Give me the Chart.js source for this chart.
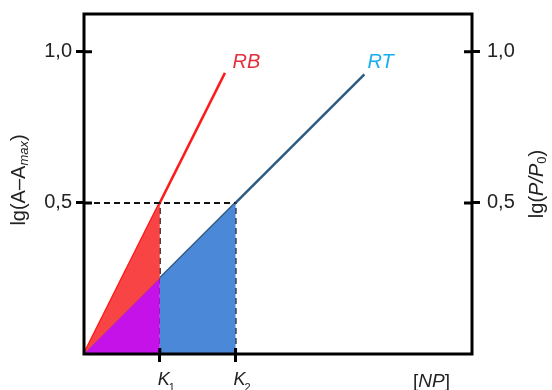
<!DOCTYPE html>
<html>
<head>
<meta charset="utf-8">
<script src="https://cdn.jsdelivr.net/npm/chart.js@4"></script>
<style>
  html, body { margin: 0; padding: 0; background: #fff; }
  #wrap { width: 552px; height: 390px; }
</style>
</head>
<body>
<div id="wrap"><canvas id="chart" width="552" height="390"></canvas></div>
<script>
// axis ticks
const yTicks = [0.5, 1.0];
const kTicks = [1, 2];
const kNames = ["1", "2"];

// lines
const rbX = [0, 1.86];
const rbY = [0, 0.93];
const rtX = [0, 3.7];
const rtY = [0, 0.925];

// shaded regions
const purpleX = [0, 1, 1];
const purpleY = [0, 0.25, 0];
const redX = [0, 1, 1];
const redY = [0, 0.5, 0.25];
const blueX = [1, 1, 2, 2];
const blueY = [0, 0.25, 0.5, 0];

// dashed guides
const hGuideX = [0, 2];
const hGuideY = [0.5, 0.5];
const k1GuideX = [1, 1];
const k2GuideX = [2, 2];
const vGuideY = [0, 0.5];

// series labels
const lineLabels = ["RB", "RT"];
const labelX = [1.96, 3.74];
const labelY = [0.965, 0.965];
const labelColors = ["#e3303c", "#16aef0"];

const FONT = '"Liberation Sans", Arial, sans-serif';
const INK = "#222";

const pts = (xs, ys) => xs.map((x, i) => ({ x, y: ys[i] }));

function region(xs, ys, color) {
  return {
    data: pts(xs, ys),
    showLine: true,
    fill: "shape",
    backgroundColor: color,
    borderWidth: 0,
    borderColor: color,
    pointRadius: 0,
  };
}

function guide(xs, ys) {
  return {
    data: pts(xs, ys),
    showLine: true,
    fill: false,
    borderColor: "#111",
    borderWidth: 2,
    borderDash: [6, 4],
    pointRadius: 0,
  };
}

function line(xs, ys, color) {
  return {
    data: pts(xs, ys),
    showLine: true,
    fill: false,
    borderColor: color,
    borderWidth: 2.5,
    pointRadius: 0,
  };
}

const decor = {
  id: "decor",
  afterDatasetsDraw(chart) {
    const { ctx, chartArea: a, scales } = chart;
    const x = scales.x, y = scales.y;
    ctx.save();
    // frame
    ctx.strokeStyle = "#000";
    ctx.lineWidth = 3;
    ctx.strokeRect(a.left, a.top, a.right - a.left, a.bottom - a.top);
    // inner part of tick marks
    ctx.beginPath();
    yTicks.forEach((v) => {
      const py = y.getPixelForValue(v);
      ctx.moveTo(a.left, py); ctx.lineTo(a.left + 8, py);
      ctx.moveTo(a.right, py); ctx.lineTo(a.right - 8, py);
    });
    kTicks.forEach((v) => {
      const px = x.getPixelForValue(v);
      ctx.moveTo(px, a.bottom); ctx.lineTo(px, a.bottom - 6);
    });
    ctx.stroke();

    // series labels
    ctx.font = "italic 20px " + FONT;
    ctx.textBaseline = "middle";
    ctx.textAlign = "left";
    lineLabels.forEach((t, i) => {
      ctx.fillStyle = labelColors[i];
      ctx.fillText(t, x.getPixelForValue(labelX[i]), y.getPixelForValue(labelY[i]));
    });

    // K labels
    ctx.fillStyle = INK;
    ctx.textBaseline = "alphabetic";
    kTicks.forEach((v, i) => {
      const px = x.getPixelForValue(v);
      ctx.font = "italic 18px " + FONT;
      const w = ctx.measureText("K").width;
      ctx.fillText("K", px - 2, 385);
      ctx.font = "11px " + FONT;
      ctx.fillText(kNames[i], px - 2 + w - 1, 391);
    });

    // [NP]
    ctx.font = "19px " + FONT;
    let cx = 413;
    ctx.fillText("[", cx, 387); cx += ctx.measureText("[").width;
    ctx.font = "italic 19px " + FONT;
    ctx.fillText("NP", cx, 387); cx += ctx.measureText("NP").width;
    ctx.font = "19px " + FONT;
    ctx.fillText("]", cx, 387);

    // left title: lg(A–A_max)
    ctx.save();
    ctx.translate(19, 180);
    ctx.rotate(-Math.PI / 2);
    drawParts(ctx, [
      ["lg(A–A", "20px", 0],
      ["max", "italic 13px", 5],
      [")", "20px", 0],
    ]);
    ctx.restore();

    // right title: lg(P/P_0)
    ctx.save();
    ctx.translate(537, 184);
    ctx.rotate(-Math.PI / 2);
    drawParts(ctx, [
      ["lg(", "20px", 0],
      ["P/P", "italic 20px", 0],
      ["0", "13px", 5],
      [")", "20px", 0],
    ]);
    ctx.restore();

    ctx.restore();
  },
};

function drawParts(ctx, parts) {
  let total = 0;
  parts.forEach(([t, f]) => { ctx.font = f + " " + FONT; total += ctx.measureText(t).width; });
  let cx = -total / 2;
  ctx.fillStyle = INK;
  ctx.textAlign = "left";
  ctx.textBaseline = "middle";
  parts.forEach(([t, f, dy]) => {
    ctx.font = f + " " + FONT;
    ctx.fillText(t, cx, dy);
    cx += ctx.measureText(t).width;
  });
}

const yAxis = (pos, pad, width) => ({
  type: "linear",
  position: pos,
  min: 0,
  max: 1.125,
  afterBuildTicks: (s) => { s.ticks = yTicks.map((v) => ({ value: v })); },
  afterFit: (s) => { s.width = width; s.paddingTop = 0; s.paddingBottom = 0; },
  border: { display: false },
  grid: { drawOnChartArea: false, drawTicks: true, tickLength: 8, color: "#000", lineWidth: 3 },
  ticks: {
    padding: pad,
    color: INK,
    font: { family: FONT, size: 20 },
    callback: (v) => v.toFixed(1).replace(".", ","),
  },
});

new Chart(document.getElementById("chart"), {
  type: "scatter",
  data: {
    datasets: [
      region(purpleX, purpleY, "#c412e8"),
      region(redX, redY, "#f84444"),
      region(blueX, blueY, "#4b88d8"),
      guide(hGuideX, hGuideY),
      guide(k1GuideX, vGuideY),
      guide(k2GuideX, vGuideY),
      line(rtX, rtY, "#2d5a80"),
      line(rbX, rbY, "#ff1a1a"),
    ],
  },
  options: {
    responsive: false,
    animation: false,
    layout: { padding: { top: 14, left: 0, right: 0, bottom: 0 } },
    plugins: { legend: { display: false }, tooltip: { enabled: false } },
    scales: {
      x: {
        type: "linear",
        min: 0,
        max: 5.12,
        afterBuildTicks: (s) => { s.ticks = kTicks.map((v) => ({ value: v })); },
        afterFit: (s) => { s.height = 36; s.paddingLeft = 0; s.paddingRight = 0; },
        border: { display: false },
        grid: { drawOnChartArea: false, drawTicks: true, tickLength: 8, color: "#000", lineWidth: 3 },
        ticks: { display: false },
      },
      y: yAxis("left", 4, 84),
      y2: yAxis("right", 7, 80),
    },
  },
  plugins: [decor],
});
</script>
</body>
</html>
